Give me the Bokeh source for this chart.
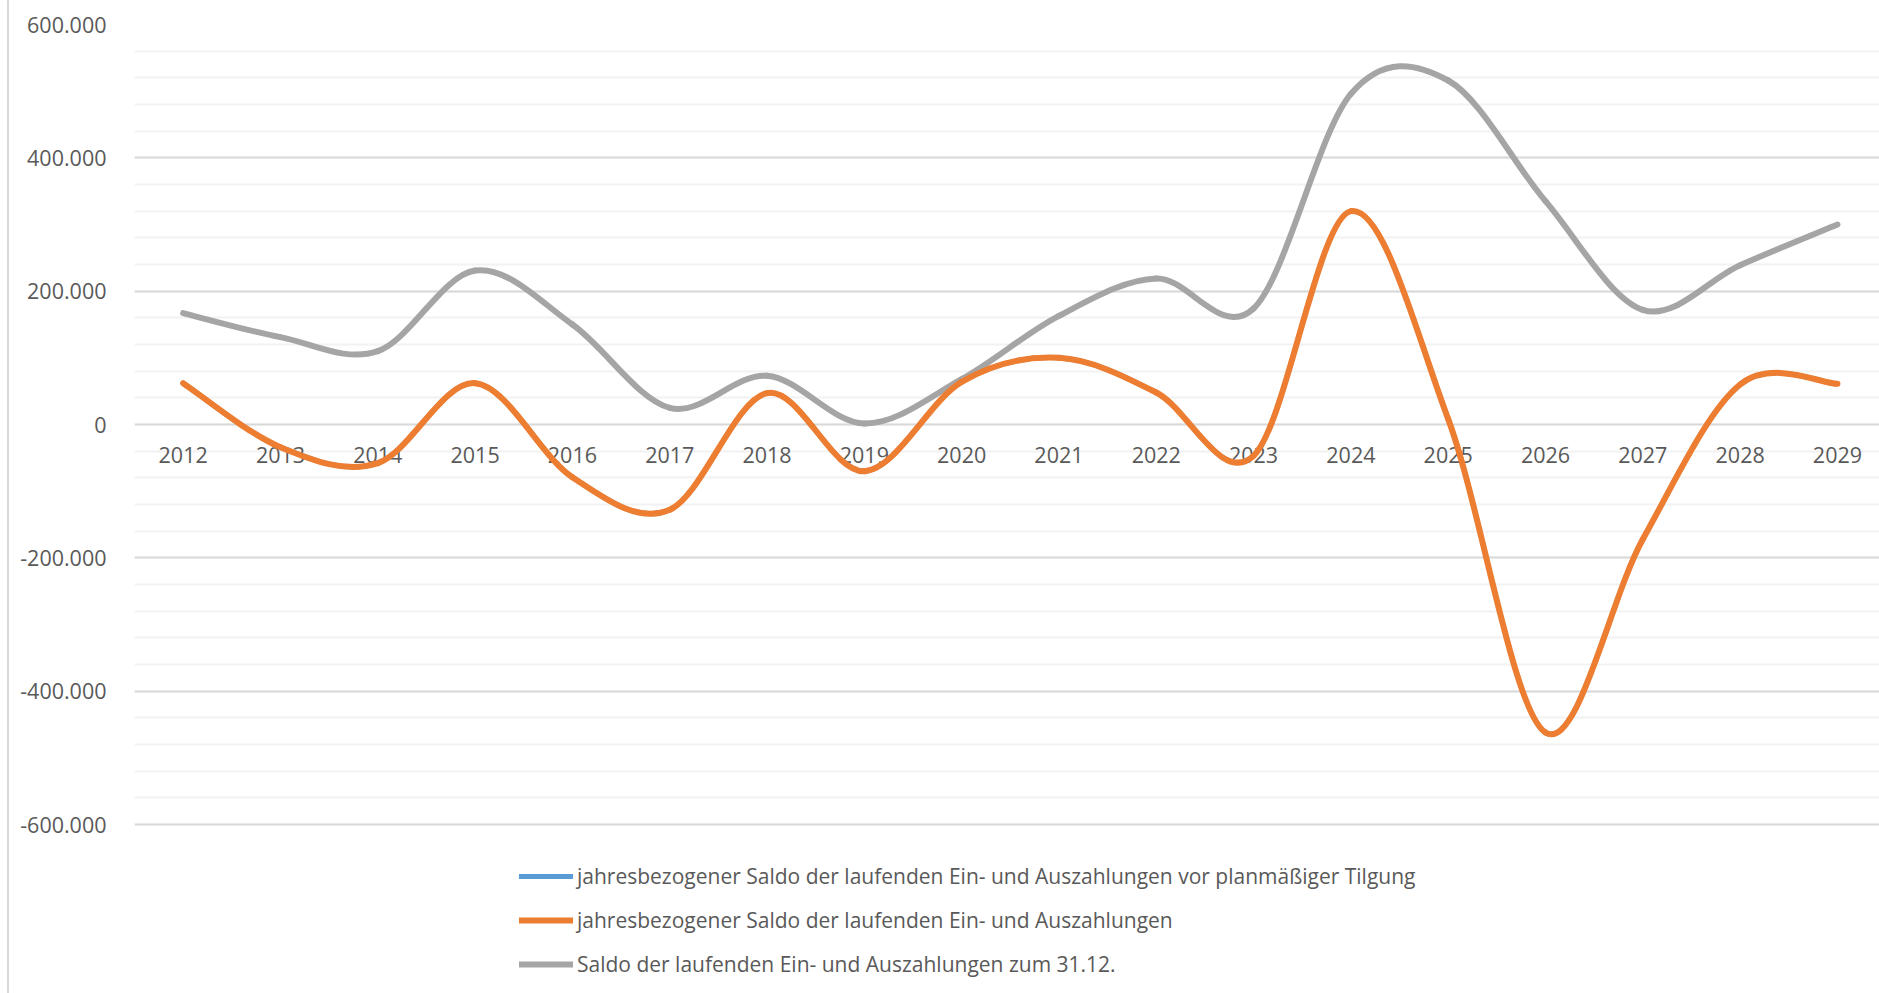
from bokeh.plotting import figure
from bokeh.models import Range1d, FixedTicker, Legend, LegendItem, ColumnDataSource
from bokeh.core.properties import value
from bokeh.embed import file_html
from bokeh.resources import INLINE

years = list(range(2012, 2030))
year_labels = [str(y) for y in years]
saldo_31_12 = [167000, 131000, 110000, 231000, 150000, 25000, 73000, 1500, 68000,
               163000, 219000, 174000, 496000, 516000, 335000, 172000, 239000, 300000]
saldo_jahr = [62000, -34000, -58000, 62000, -79000, -128000, 47000, -70000, 64000,
              100000, 48000, -47000, 320000, 8000, -462000, -172000, 60000, 61000]
saldo_vor_tilgung = list(saldo_jahr)  # identical to saldo_jahr, hidden beneath it

y_ticks = [-600000, -400000, -200000, 0, 200000, 400000, 600000]
y_tick_labels = ["-600.000", "-400.000", "-200.000", "0", "200.000", "400.000", "600.000"]
y_minor = list(range(-600000, 600001, 40000))

names = ["jahresbezogener Saldo der laufenden Ein- und Auszahlungen vor planmäßiger Tilgung",
         "jahresbezogener Saldo der laufenden Ein- und Auszahlungen",
         "Saldo der laufenden Ein- und Auszahlungen zum 31.12."]

FONT = "Open Sans"
TXT = "#595959"

def smooth(xs, ys):
    n = len(xs)
    d = dict(x0=[], y0=[], x1=[], y1=[], cx0=[], cy0=[], cx1=[], cy1=[])
    for i in range(n - 1):
        a = i - 1 if i > 0 else i
        b = i + 2 if i + 2 < n else i + 1
        d["x0"].append(xs[i]); d["y0"].append(ys[i])
        d["x1"].append(xs[i + 1]); d["y1"].append(ys[i + 1])
        d["cx0"].append(xs[i] + (xs[i + 1] - xs[a]) / 6)
        d["cy0"].append(ys[i] + (ys[i + 1] - ys[a]) / 6)
        d["cx1"].append(xs[i + 1] - (xs[b] - xs[i]) / 6)
        d["cy1"].append(ys[i + 1] - (ys[b] - ys[i]) / 6)
    return ColumnDataSource(d)

PAGE_W, PAGE_H = 1879, 993
canvas_left = 9          # border line 7..9 then canvas
frame_left = 134
frame_top = 24
px_per_year = 97.2
val_per_px = 1500.0

fig_w = PAGE_W - 7       # includes 2px border
canvas_w = fig_w - 2
frame_right = canvas_left + canvas_w
x_end = 2011.5 + (frame_right - frame_left) / px_per_year
fig_h = PAGE_H
y_bottom = -600000 - (fig_h - 824) * val_per_px

p = figure(width=fig_w, height=fig_h, output_backend="svg", toolbar_location=None,
           x_range=Range1d(2011.5, x_end), y_range=Range1d(y_bottom, 600000),
           min_border_left=frame_left - canvas_left, min_border_right=0,
           min_border_top=frame_top, min_border_bottom=0)
p.styles = {"border-left": "2px solid #d9d9d9", "box-sizing": "border-box", "margin-left": "7px"}
p.outline_line_color = None
p.background_fill_color = "white"
p.border_fill_color = "white"

p.xaxis.visible = False
p.xgrid.visible = False

p.yaxis.ticker = FixedTicker(ticks=y_ticks, minor_ticks=y_minor)
p.yaxis.major_label_overrides = {t: l for t, l in zip(y_ticks, y_tick_labels)}
p.yaxis.axis_line_color = None
p.yaxis.major_tick_line_color = None
p.yaxis.minor_tick_line_color = None
p.yaxis.major_label_standoff = 22
p.yaxis.major_label_text_font = FONT
p.yaxis.major_label_text_font_size = "21.5px"
p.yaxis.major_label_text_color = TXT

p.ygrid.grid_line_color = "#d9d9d9"
p.ygrid.grid_line_width = 2
p.ygrid.minor_grid_line_color = "#f2f2f2"
p.ygrid.minor_grid_line_width = 2

p.text(x=years, y=[0] * len(years), text=year_labels, text_font=value(FONT),
       text_font_size="21.5px", text_color=TXT, text_align="center",
       text_baseline="middle", y_offset=30)

r_blue = p.bezier(x0="x0", y0="y0", x1="x1", y1="y1", cx0="cx0", cy0="cy0", cx1="cx1", cy1="cy1",
                  source=smooth(years, saldo_vor_tilgung), line_color="#5B9BD5", line_width=5,
                  line_cap="round")
r_gray = p.bezier(x0="x0", y0="y0", x1="x1", y1="y1", cx0="cx0", cy0="cy0", cx1="cx1", cy1="cy1",
                  source=smooth(years, saldo_31_12), line_color="#A5A5A5", line_width=6,
                  line_cap="round")
r_orange = p.bezier(x0="x0", y0="y0", x1="x1", y1="y1", cx0="cx0", cy0="cy0", cx1="cx1", cy1="cy1",
                    source=smooth(years, saldo_jahr), line_color="#ED7D31", line_width=6,
                    line_cap="round")

legend = Legend(items=[LegendItem(label=names[0], renderers=[r_blue]),
                       LegendItem(label=names[1], renderers=[r_orange]),
                       LegendItem(label=names[2], renderers=[r_gray])],
                location=(519 - frame_left, PAGE_H - 978), orientation="vertical",
                padding=0, margin=0, spacing=16, glyph_width=54, glyph_height=20,
                label_height=20, label_standoff=4, border_line_color=None,
                background_fill_alpha=0, label_text_font=FONT, label_text_font_size="21px",
                label_text_color=TXT)
p.add_layout(legend, "center")

open("out.html", "w").write(file_html(p, INLINE))
